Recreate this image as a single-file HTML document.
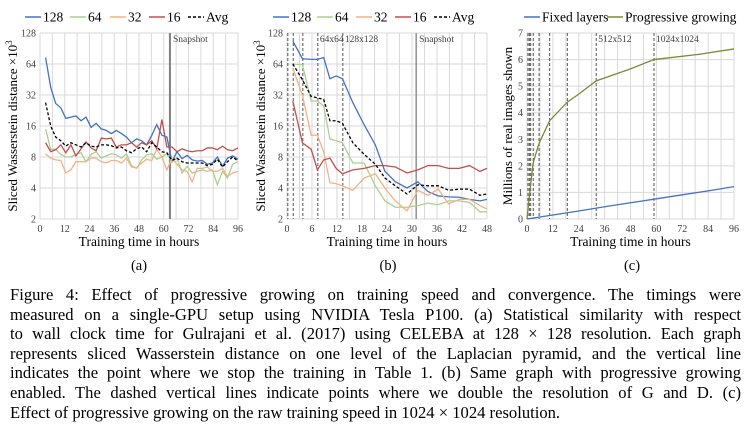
<!DOCTYPE html>
<html><head><meta charset="utf-8"><style>
body{margin:0;background:#fff;width:747px;height:434px;overflow:hidden;font-family:"Liberation Serif",serif;}
svg, svg text, svg tspan{font-family:"Liberation Serif","Times New Roman",serif !important;}
#cap{position:absolute;left:10px;top:285px;width:731px;font-size:16.6px;line-height:19.6px;text-align:justify;color:#000;}
#cap div{text-align-last:justify;white-space:nowrap;}
#cap div.last{text-align-last:left;}
.sc{font-variant:small-caps;}
</style></head><body>
<svg id="fig" width="747" height="280" style="position:absolute;left:0;top:0;font-family:'Liberation Serif',serif" font-family="'Liberation Serif', serif"></svg>
<div id="cap">
<div>Figure 4: Effect of progressive growing on training speed and convergence. The timings were</div>
<div>measured on a single-GPU setup using NVIDIA Tesla P100. (a) Statistical similarity with respect</div>
<div>to wall clock time for Gulrajani et al. (2017) using C<span class="sc">ELEB</span>A at 128 × 128 resolution. Each graph</div>
<div>represents sliced Wasserstein distance on one level of the Laplacian pyramid, and the vertical line</div>
<div>indicates the point where we stop the training in Table 1. (b) Same graph with progressive growing</div>
<div>enabled. The dashed vertical lines indicate points where we double the resolution of G and D. (c)</div>
<div class="last">Effect of progressive growing on the raw training speed in 1024 × 1024 resolution.</div>
</div>
<script>
// ---- data chart a ----
const aHours=[2.7,5.2,7.6,10.1,12.5,15,17.4,19.9,22.3,24.8,27.2,29.7,32.1,34.6,37,39.5,41.9,44.4,46.8,49.3,51.7,54.2,56.6,59.1,61.5,64,66.4,68.9,71.3,73.8,76.2,78.7,81.1,83.6,86,88.5,90.9,93.4,96];
const a128=[74,38,26.5,24,19,19.5,20,18,19.5,15.5,17,15,14.5,13.5,14.5,13.5,12.5,11,12,11.5,10.5,13,16.5,13,12.5,7.2,9,7.7,8.3,7.5,7.3,7.4,6.8,7,8,6.5,7.8,8.2,7.6];
const a64=[15,9.5,9.5,8.5,8,8,8.5,8.8,7.2,8.5,9,7.8,8.2,8.6,8.4,7.8,8.6,6.6,6.2,7.5,8.4,8.6,7.6,8,8.6,7.2,7.8,5.6,6.5,5.6,5.8,6,5.8,6,4.3,5.8,5,6.8,7.2];
const a32=[8.6,7.8,7.5,7.4,5.6,6,7.2,7.2,7.2,7.8,7.8,7.2,7,7.4,7.4,7,7.8,6.4,6.3,7,7.6,7.4,9.5,8,6,7.8,6.8,6,5.8,4.6,6.2,6.2,6.4,5.8,5.8,6.2,5.2,5.6,5.8];
const a16=[11,9,9.4,10.5,8.8,10.5,8.2,9.6,11.2,9.8,9.2,12.2,12,12.2,10,10.5,10.5,11,10,11,10.5,11.5,9.6,18.5,10,10,9,9.6,9.2,9,9.2,9.2,9.8,9.8,9.4,10.2,9.4,9.2,9.8];
const aAvg=[27,16,12.5,11.5,10.2,11,10.5,10,11,10.2,10,10.5,10.5,10.3,9.8,10,9.2,8.8,9.6,10,9,11,10,9,8.8,7.4,7.8,7.2,7,7,7,7,6.6,6.8,7.6,6.4,7.2,8,7.3];
const aSnapshot=63;
// ---- data chart b ----
const bHours=[1.4,3.7,5.8,7.3,8.8,10.3,11.8,13.3,15.8,18.5,21.2,23.5,26,28.8,31.4,33.8,36.3,38.8,41.3,43.8,46.3,48];
const b128=[107,72,71,71,74,46,49,46,27,16.5,10.5,5.8,4.6,4,4.6,3.7,3.35,3.28,3.25,3.1,3,3.1];
const b64=[64,63,28,28,25,12,11.5,11,7,7,4.2,3,2.6,2.6,2.7,2.85,2.75,3,3,2.9,2.35,2.35];
const b32=[58,32,13,13,9,4.5,4.4,4.2,3.8,5,5.5,4,3,2.4,3.8,3.4,3.9,2.8,3.1,3.1,2.7,2.5];
const b16=[28,11,9.5,6,7.5,7.8,6.2,5.5,6,6.2,6.6,6.6,6.4,5.6,6,6.6,6.6,6.2,6.2,6.6,5.8,6.2];
const bAvg=[64,45,31,30,29,18,18,17,11,8.5,6.8,5,4.2,3.5,4.3,4.2,4.2,3.8,3.9,3.9,3.4,3.5];
const bDoublings=[0.2,1.5,3.8,7.4,13.4];
const bSnapshot=31;
// ---- data chart c ----
const cProgHours=[0,0.9,2.8,5.6,10.5,18.7,24,32.1,48,58.9,80,96];
const cProg=[0,0.72,2.1,2.85,3.7,4.4,4.7,5.2,5.65,6.0,6.2,6.4];
const cFixedHours=[0,12,24,36,48,60,72,84,96];
const cFixed=[0,0.15,0.3,0.46,0.61,0.76,0.91,1.06,1.22];
const cDoublings=[0.46,1.1,1.7,2.9,5.6,10.5,18.7,32.1,58.9];
const logTicks=[2,4,8,16,32,64,128];

const NS='http://www.w3.org/2000/svg';
const svg=document.getElementById('fig');
const FF="'Liberation Serif', serif";
function mk(tag,attrs,parent,txt){const e=document.createElementNS(NS,tag);for(const k in attrs)e.setAttribute(k,attrs[k]);if(tag==='text'){e.setAttribute('font-family',FF);e.style.fontFamily=FF;}if(txt!==undefined)e.textContent=txt;(parent||svg).appendChild(e);return e;}
const C={b:'#4472C4',g:'#A9D18E',o:'#F4B183',r:'#C0504D',k:'#000',olive:'#7A8B35'};

function chart(o){
  const g=mk('g',{});
  
  
  const X=v=>o.L+(v-o.x0)/(o.x1-o.x0)*(o.R-o.L);
  const Y=o.log?(v=>o.B-(Math.log2(v)-1)/6*(o.B-o.T)):(v=>o.B-v/o.y1*(o.B-o.T));
  for(let h=o.x0;h<=o.x1+0.01;h+=o.xg){const l=mk('line',{x1:X(h),x2:X(h),y1:o.T,y2:o.B,stroke:'#d9d9d9','stroke-width':1},g);}
  o.yt.forEach(v=>{const l=mk('line',{x1:o.L,x2:o.R,y1:Y(v),y2:Y(v),stroke:'#d9d9d9','stroke-width':1},g);
    const t=mk('text',{x:o.L-4,y:Y(v)+3.5,'font-size':10,'text-anchor':'end',fill:'#404040'},g,v);});
  o.xt.forEach(v=>{const t=mk('text',{x:X(v),y:o.B+13,'font-size':10,'text-anchor':'middle',fill:'#404040'},g,v);});
  (o.dash||[]).forEach(h=>{const l=mk('line',{x1:X(h),x2:X(h),y1:o.T,y2:o.B,stroke:'#555','stroke-width':1,'stroke-dasharray':'3,2'},g);});
  if(o.snap!==undefined){const l=mk('line',{x1:X(o.snap),x2:X(o.snap),y1:o.T,y2:o.B,stroke:'#808080','stroke-width':o.snapW},g);
    const t=mk('text',{x:X(o.snap)+3,y:o.T+9,'font-size':9.5,fill:'#404040'},g,'Snapshot');}
  (o.labels||[]).forEach(lb=>{const t=mk('text',{x:X(lb[0])+2,y:o.T+9,'font-size':9.5,fill:'#404040'},g,lb[1]);});
  o.series.forEach(s=>{const p=mk('polyline',{points:s.x.map((h,i)=>X(h)+','+Y(s.y[i])).join(' '),fill:'none',stroke:s.c,'stroke-width':1.3,'stroke-dasharray':s.d||'none'},g);});
  const xt=mk('text',{x:(o.L+o.R)/2,y:o.B+27,'font-size':13.5,'text-anchor':'middle'},g,'Training time in hours');
  const yt=mk('text',{x:0,y:0,'font-size':13,'text-anchor':'middle',transform:`translate(${o.ytx},${(o.T+o.B)/2}) rotate(-90)`},g);
  
  if(o.log){yt.textContent='Sliced Wasserstein distance ×10';mk('tspan',{'font-size':9,dy:-5},yt,'3');}else yt.textContent='Millions of real images shown';
  o.leg.forEach(e=>{const l=mk('line',{x1:e[0],x2:e[0]+16,y1:17,y2:17,stroke:e[2],'stroke-width':1.5,'stroke-dasharray':e[3]||'none'},g);
    const t=mk('text',{x:e[0]+18,y:21.5,'font-size':13.5},g,e[1]);});
  const sl=mk('text',{x:o.sub[0],y:270,'font-size':14.5,'text-anchor':'middle'},g,o.sub[1]);
}
chart({name:'chart-a',L:40,R:238,T:33,B:219,x0:0,x1:96,xg:6,log:true,yt:logTicks,xt:[0,12,24,36,48,60,72,84,96],snap:aSnapshot,snapW:2,ytx:17,sub:[139,'(a)'],
 series:[{n:'128',x:aHours,y:a128,c:C.b},{n:'64',x:aHours,y:a64,c:C.g},{n:'32',x:aHours,y:a32,c:C.o},{n:'16',x:aHours,y:a16,c:C.r},{n:'avg',x:aHours,y:aAvg,c:C.k,d:'3,2'}],
 leg:[[25,'128',C.b],[70,'64',C.g],[110,'32',C.o],[149,'16',C.r],[188,'Avg',C.k,'3,2']]});
chart({name:'chart-b',L:287,R:487,T:33,B:219,x0:0,x1:48,xg:3,log:true,yt:logTicks,xt:[0,6,12,18,24,30,36,42,48],snap:bSnapshot,snapW:1.3,dash:bDoublings,labels:[[7.4,'64x64'],[13.4,'128x128']],ytx:265,sub:[388,'(b)'],
 series:[{n:'128',x:bHours,y:b128,c:C.b},{n:'64',x:bHours,y:b64,c:C.g},{n:'32',x:bHours,y:b32,c:C.o},{n:'16',x:bHours,y:b16,c:C.r},{n:'avg',x:bHours,y:bAvg,c:C.k,d:'3,2'}],
 leg:[[273,'128',C.b],[317,'64',C.g],[356,'32',C.o],[395,'16',C.r],[434,'Avg',C.k,'3,2']]});
chart({name:'chart-c',L:527,R:734,T:33,B:219,x0:0,x1:96,xg:6,log:false,y1:7,yt:[0,1,2,3,4,5,6,7],xt:[0,12,24,36,48,60,72,84,96],dash:cDoublings,labels:[[32.1,'512x512'],[58.9,'1024x1024']],ytx:512,sub:[632,'(c)'],
 series:[{n:'fixed-layers',x:cFixedHours,y:cFixed,c:C.b},{n:'progressive-growing',x:cProgHours,y:cProg,c:C.olive}],
 leg:[[524,'Fixed layers',C.b],[607,'Progressive growing',C.olive]]});
</script>
</body></html>
